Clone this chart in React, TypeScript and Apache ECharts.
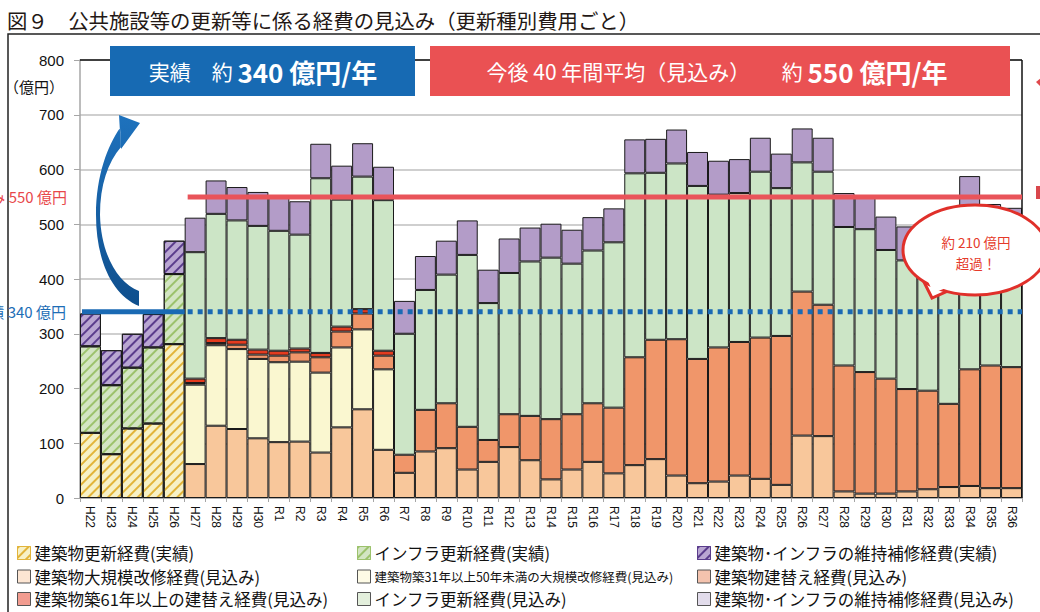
import React, { useEffect, useRef } from 'react';
import * as echarts from 'echarts';

const CJK = '"Noto Sans CJK JP", sans-serif';
const LAT = '"Liberation Sans", Arial, sans-serif';

const categories = [
  'H22', 'H23', 'H24', 'H25', 'H26', 'H27', 'H28', 'H29', 'H30',
  'R1', 'R2', 'R3', 'R4', 'R5', 'R6', 'R7', 'R8', 'R9', 'R10',
  'R11', 'R12', 'R13', 'R14', 'R15', 'R16', 'R17', 'R18', 'R19', 'R20',
  'R21', 'R22', 'R23', 'R24', 'R25', 'R26', 'R27', 'R28', 'R29', 'R30',
  'R31', 'R32', 'R33', 'R34', 'R35', 'R36',
];

const yTicks = { min: 0, max: 800, interval: 100 };
const _ = null;

// 実績 (H22–H26)
const actualBuilding = [119, 80, 127, 136, 281, _, _, _, _, _, _, _, _, _, _, _, _, _, _, _, _, _, _, _, _, _, _, _, _, _, _, _, _, _, _, _, _, _, _, _, _, _, _, _, _];
const actualInfra = [158, 126, 111, 139, 128, _, _, _, _, _, _, _, _, _, _, _, _, _, _, _, _, _, _, _, _, _, _, _, _, _, _, _, _, _, _, _, _, _, _, _, _, _, _, _, _];
const actualMaint = [60, 64, 62, 61, 61, _, _, _, _, _, _, _, _, _, _, _, _, _, _, _, _, _, _, _, _, _, _, _, _, _, _, _, _, _, _, _, _, _, _, _, _, _, _, _, _];

// 見込み (H27–R36)
const majorRepair = [_, _, _, _, _, 62, 132, 126, 109, 102, 103, 83, 129, 162, 88, 46, 85, 91, 52, 66, 93, 69, 34, 52, 66, 45, 60, 71, 41, 27, 30, 41, 35, 24, 114, 113, 12, 8, 8, 12, 16, 20, 22, 18, 18];
const repair31to50 = [_, _, _, _, _, 145, 147, 146, 145, 146, 146, 146, 146, 146, 147, _, _, _, _, _, _, _, _, _, _, _, _, _, _, _, _, _, _, _, _, _, _, _, _, _, _, _, _, _, _];
const rebuild = [_, _, _, _, _, 3, 4, 8, 8, 12, 17, 28, 29, 29, 25, 33, 76, 82, 78, 40, 60, 81, 110, 101, 107, 120, 197, 218, 249, 227, 245, 244, 258, 272, 263, 240, 230, 222, 210, 187, 180, 152, 213, 224, 221];
const rebuild61 = [_, _, _, _, _, 8, 9, 9, 9, 9, 7, 8, 9, 8, 9, _, _, _, _, _, _, _, _, _, _, _, _, _, _, _, _, _, _, _, _, _, _, _, _, _, _, _, _, _, _];
const infraForecast = [_, _, _, _, _, 231, 227, 218, 226, 219, 208, 319, 232, 242, 275, 221, 219, 235, 314, 250, 258, 282, 295, 275, 279, 302, 336, 305, 321, 316, 279, 272, 303, 270, 236, 243, 253, 261, 235, 235, 230, 250, 291, 233, 229];
const maintForecast = [_, _, _, _, _, 63, 61, 61, 62, 62, 61, 63, 62, 61, 61, 60, 62, 62, 63, 61, 63, 62, 62, 62, 61, 62, 62, 62, 62, 62, 62, 62, 62, 63, 62, 62, 62, 62, 61, 62, 62, 62, 62, 62, 62];

const actualAverage = 340;
const forecastAverage = 550;
const forecastStart = 'H27';

const seriesDefs = [
  { name: '建築物更新経費(実績)', data: actualBuilding, color: '#F7F1C6', hatch: '#E2B43A', legendColor: '#F7F1C6', col: 0, row: 0 },
  { name: 'インフラ更新経費(実績)', data: actualInfra, color: '#D3E5C3', hatch: '#9CC26C', legendColor: '#D3E5C3', col: 1, row: 0 },
  { name: '建築物･インフラの維持補修経費(実績)', data: actualMaint, color: '#B9A6D2', hatch: '#5A3C8C', legendColor: '#B9A6D2', col: 2, row: 0 },
  { name: '建築物大規模改修経費(見込み)', data: majorRepair, color: '#F8C79B', legendColor: '#FDE6D3', col: 0, row: 1 },
  { name: '建築物築31年以上50年未満の大規模改修経費(見込み)', data: repair31to50, color: '#FAF7D0', legendColor: '#FEFBE6', col: 1, row: 1, small: true },
  { name: '建築物建替え経費(見込み)', data: rebuild, color: '#F0966A', legendColor: '#F4C3AE', col: 2, row: 1 },
  { name: '建築物築61年以上の建替え経費(見込み)', data: rebuild61, color: '#E43B1F', legendColor: '#F29C90', col: 0, row: 2 },
  { name: 'インフラ更新経費(見込み)', data: infraForecast, color: '#CCE5C6', legendColor: '#E3EFDC', col: 1, row: 2 },
  { name: '建築物･インフラの維持補修経費(見込み)', data: maintForecast, color: '#B39CC8', legendColor: '#E2DCEB', col: 2, row: 2 },
];

const legendCols = [17, 357, 697];
const legendRows = [544, 567.5, 590];

const ARROW_PATH =
  'M120 128 C108 145 96 175 96 215 C96 260 112 295 139 306 L139 291 C118 283 101 255 100 215 C100 185 108 162 121 147 Z M119 115 L140 123 L121 149 Z';
echarts.graphic.registerShape('curvedArrow', echarts.graphic.extendPath(ARROW_PATH, {}) as any);

function decalOf(c: string) {
  return {
    symbol: 'rect',
    symbolSize: 1,
    dashArrayX: [1, 0],
    dashArrayY: [2, 4.5],
    rotation: -Math.PI / 4,
    color: c,
  };
}

export default function App() {
  const ref = useRef<HTMLDivElement>(null);

  useEffect(() => {
    document.body.style.margin = '0';
    const chart = echarts.init(ref.current!, null, { renderer: 'svg' });

    const series = seriesDefs.map((d) => ({
      name: d.name,
      type: 'bar',
      stack: 'total',
      barCategoryGap: '0%',
      data: d.data,
      itemStyle: {
        color: d.color,
        borderColor: '#1a1a1a',
        borderWidth: 1,
        ...(d.hatch ? { decal: decalOf(d.hatch) } : {}),
      },
      emphasis: { disabled: true },
    }));

    const legends = seriesDefs.map((d) => ({
      data: [
        {
          name: d.name,
          itemStyle: {
            color: d.legendColor,
            borderColor: d.hatch ? d.hatch : '#555',
            borderWidth: 1,
            ...(d.hatch ? { decal: decalOf(d.hatch) } : {}),
          },
        },
      ],
      left: legendCols[d.col],
      top: legendRows[d.row],
      padding: 0,
      itemWidth: 13,
      itemHeight: 13,
      itemGap: 0,
      icon: 'rect',
      selectedMode: false,
      textStyle: {
        fontFamily: CJK,
        fontSize: d.small ? 12.5 : 16.5,
        lineHeight: 18,
        color: '#111',
        padding: [0, 0, 0, -1],
      },
    }));

    chart.setOption({
      animation: false,
      backgroundColor: '#fff',
      grid: { left: 80, right: 18, top: 60, bottom: 114, containLabel: false },
      legend: legends,
      xAxis: {
        type: 'category',
        data: categories,
        axisLine: { lineStyle: { color: '#A6A6A6', width: 1.5 } },
        axisTick: { show: true, length: 4, lineStyle: { color: '#A6A6A6' } },
        axisLabel: {
          rotate: -90,
          interval: 0,
          margin: 8,
          fontSize: 12,
          fontFamily: LAT,
          color: '#111',
        },
      },
      yAxis: {
        type: 'value',
        min: yTicks.min,
        max: yTicks.max,
        interval: yTicks.interval,
        axisLine: { show: true, lineStyle: { color: '#A6A6A6', width: 1.5 } },
        axisTick: { show: true, length: 6, lineStyle: { color: '#A6A6A6' } },
        axisLabel: { fontSize: 15, fontFamily: LAT, color: '#111', margin: 16 },
        splitLine: { lineStyle: { color: '#BFBFBF', width: 1.5 } },
      },
      series,
    });

    const yOf = (v: number) => chart.convertToPixel({ yAxisIndex: 0 }, v) as number;
    const xOf = (c: string) => chart.convertToPixel({ xAxisIndex: 0 }, c) as number;
    const band = xOf(categories[1]) - xOf(categories[0]);
    const xFirst = xOf(categories[0]) - band / 2;
    const xLast = xOf(categories[categories.length - 1]) + band / 2;
    const xForecast = xOf(forecastStart) - band / 2;
    const yTop = yOf(yTicks.max);
    const yBottom = yOf(yTicks.min);
    const y550 = yOf(forecastAverage);
    const y340 = yOf(actualAverage);

    const graphic: any[] = [
      // outer frame
      { type: 'polyline', z: 1, shape: { points: [[8, 640], [8, 34], [1045, 34]] }, style: { stroke: '#222', lineWidth: 1.5, fill: null } },
      // title
      {
        type: 'text', z: 1, x: 7, y: 20,
        style: { text: '図９　公共施設等の更新等に係る経費の見込み（更新種別費用ごと）', fontFamily: CJK, fontSize: 20.4, fill: '#231815', verticalAlign: 'middle' },
      },
      // plot frame (top & right)
      { type: 'line', z: 5, shape: { x1: xFirst, y1: yTop, x2: xLast, y2: yTop }, style: { stroke: '#111', lineWidth: 1.5 } },
      { type: 'line', z: 5, shape: { x1: xLast, y1: yTop, x2: xLast, y2: yBottom }, style: { stroke: '#111', lineWidth: 1.5 } },
      // unit
      { type: 'text', z: 5, x: 64, y: 86, style: { text: '（億円）', fontFamily: CJK, fontSize: 15, fill: '#111', align: 'right', verticalAlign: 'middle' } },
      // header boxes
      { type: 'rect', z: 20, shape: { x: 110, y: 46, width: 305, height: 50 }, style: { fill: '#176AB3' } },
      {
        type: 'text', z: 21, x: 263, y: 71,
        style: {
          text: '{a|実績　約 }{b|340 億円/年}', align: 'center', verticalAlign: 'middle',
          rich: {
            a: { fontFamily: CJK, fontSize: 21, fill: '#fff' },
            b: { fontFamily: CJK, fontSize: 26, fontWeight: 'bold', fill: '#fff' },
          },
        },
      },
      { type: 'rect', z: 20, shape: { x: 430, y: 46, width: 580, height: 50 }, style: { fill: '#EA5153' } },
      {
        type: 'text', z: 21, x: 717, y: 71,
        style: {
          text: '{a|今後 40 年間平均（見込み）　　約 }{b|550 億円/年}', align: 'center', verticalAlign: 'middle',
          rich: {
            a: { fontFamily: CJK, fontSize: 21, fill: '#fff' },
            b: { fontFamily: CJK, fontSize: 26, fontWeight: 'bold', fill: '#fff' },
          },
        },
      },
      // curved arrow
      {
        type: 'curvedArrow', z: 30, x: 0, y: 0,
        style: {
          fill: { type: 'linear', x: 0, y: 0, x2: 0, y2: 1, colorStops: [{ offset: 0, color: '#1E72BD' }, { offset: 1, color: '#0F4F8D' }] },
        },
      },
      // average lines
      { type: 'line', z: 30, shape: { x1: xFirst + 2, y1: y340, x2: xForecast, y2: y340 }, style: { stroke: '#1A6AB4', lineWidth: 5 } },
      { type: 'line', z: 30, shape: { x1: xForecast + 3, y1: y340, x2: xLast, y2: y340 }, style: { stroke: '#1A6AB4', lineWidth: 5, lineDash: [5, 5] } },
      { type: 'line', z: 30, shape: { x1: xForecast + 3, y1: y550, x2: xLast, y2: y550 }, style: { stroke: '#E9545A', lineWidth: 5 } },
      { type: 'text', z: 30, x: 67, y: y550, style: { text: '見込み 550 億円', fontFamily: CJK, fontSize: 15, fill: '#E8474A', align: 'right', verticalAlign: 'middle' } },
      { type: 'text', z: 30, x: 66, y: y340, style: { text: '実績 340 億円', fontFamily: CJK, fontSize: 15, fill: '#1E6EB6', align: 'right', verticalAlign: 'middle' } },
      // bubble
      { type: 'polygon', z: 40, shape: { points: [[924, 282], [932, 298], [950, 290]] }, style: { fill: '#fff', stroke: '#E0302A', lineWidth: 3 } },
      { type: 'ellipse', z: 41, shape: { cx: 975, cy: 250, rx: 72, ry: 45 }, style: { fill: '#fff', stroke: '#E0302A', lineWidth: 3 } },
      { type: 'polygon', z: 42, shape: { points: [[928, 281], [933, 293], [946, 288]] }, style: { fill: '#fff' } },
      {
        type: 'text', z: 43, x: 976, y: 252,
        style: { text: '約 210 億円\n超過！', fontFamily: CJK, fontSize: 13.5, lineHeight: 21, fill: '#E53A2A', align: 'center', verticalAlign: 'middle' },
      },
      // clipped marks at right edge
      { type: 'rect', z: 30, shape: { x: 1036, y: 186, width: 6, height: 13 }, style: { fill: '#D9474C' } },
      { type: 'polygon', z: 30, shape: { points: [[1041, 78], [1036, 82], [1041, 87]] }, style: { fill: '#E0484C' } },
    ];

    chart.setOption({ graphic });

    return () => chart.dispose();
  }, []);

  return <div ref={ref} style={{ width: 1040, height: 612 }} />;
}
